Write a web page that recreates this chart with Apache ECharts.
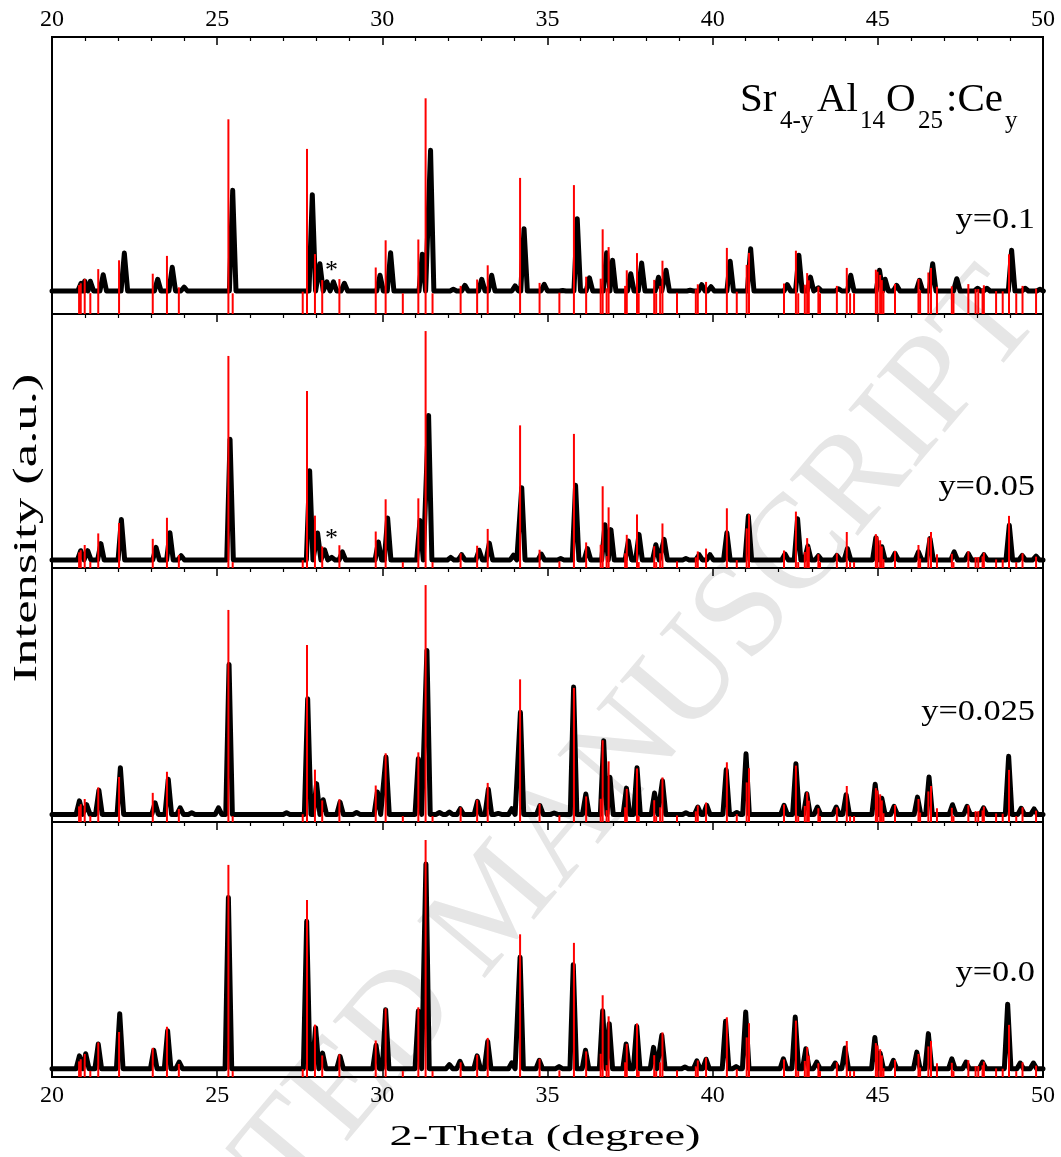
<!DOCTYPE html>
<html>
<head>
<meta charset="utf-8">
<script src="https://cdn.jsdelivr.net/npm/echarts@6/dist/echarts.min.js"></script>
<style>
  html, body { margin: 0; padding: 0; background: #fff; }
  #chart { width: 1061px; height: 1157px; }
</style>
</head>
<body>
<div id="chart"></div>
<script>
// reference pattern (red sticks): [2-theta, relative intensity]
const refSticks = [
  [20.82, 6.6], [20.87, 7.5], [20.99, 9.7], [21.16, 2.6], [21.40, 14.6], [22.03, 19.0],
  [23.05, 12.3], [23.48, 21.2], [23.84, 5.5], [25.34, 89.5], [25.47, 2.5], [27.59, 3.3],
  [27.72, 74.7], [27.96, 22.1], [28.18, 9.1], [28.70, 9.6], [29.80, 15.4], [30.10, 29.0],
  [30.62, 2.5], [31.09, 29.4], [31.31, 100], [31.52, 2.5], [32.37, 6.2], [32.87, 9.4],
  [33.19, 16.5], [34.17, 60.2], [34.76, 7.7], [35.36, 2.8], [35.80, 56.6], [36.17, 10.8],
  [36.61, 9.8], [36.67, 34.5], [36.79, 5.0], [36.85, 25.6], [37.35, 6.2], [37.40, 14.0],
  [37.71, 22.6], [37.76, 2.5], [38.23, 9.2], [38.29, 2.5], [38.41, 6.2], [38.48, 18.8],
  [38.92, 2.8], [39.49, 4.5], [39.55, 7.0], [39.80, 8.2], [40.43, 25.2], [40.73, 3.3],
  [41.03, 16.7], [41.10, 22.7], [42.16, 7.4], [42.52, 23.8], [42.59, 2.5], [42.79, 6.8],
  [42.86, 12.6], [42.91, 9.0], [43.20, 5.8], [43.25, 2.5], [43.76, 6.2], [44.06, 15.2],
  [44.16, 2.5], [44.28, 2.5], [44.94, 14.3], [44.99, 13.3], [45.07, 11.7], [45.12, 9.1],
  [45.17, 3.7], [45.52, 7.2], [46.23, 9.7], [46.28, 4.0], [46.53, 12.9], [46.61, 15.2],
  [46.79, 5.8], [47.24, 6.0], [47.29, 2.5], [47.74, 7.1], [47.96, 4.6], [48.04, 4.6],
  [48.17, 4.9], [48.21, 6.5], [48.58, 3.6], [48.78, 3.5], [48.97, 22.0], [49.19, 2.5],
  [49.38, 6.2], [49.79, 4.8]
];

// measured patterns, peak list [2-theta, intensity]
const peaksY010 = [
  [20.88, 7.5], [20.99, 8.6], [21.16, 8.5], [21.55, 11.8], [22.19, 22.6], [23.20, 9.5],
  [23.64, 15.5], [24.00, 5.6], [25.47, 54.0], [27.88, 51.8], [28.11, 17.3], [28.32, 8.2],
  [28.52, 8.2], [28.85, 7.5], [29.93, 11.5], [30.25, 22.8], [31.21, 22.0], [31.46, 74.0],
  [32.15, 4.5], [32.50, 6.5], [33.01, 9.5], [33.31, 11.5], [34.02, 6.2], [34.29, 34.8],
  [34.90, 7.0], [35.46, 3.9], [35.90, 39.8], [36.27, 10.2], [36.79, 22.8], [36.97, 19.0],
  [37.52, 12.3], [37.85, 17.6], [38.36, 10.5], [38.59, 14.0], [39.32, 4.0], [39.67, 6.8],
  [39.95, 5.8], [40.53, 18.5], [41.15, 24.8], [42.26, 6.8], [42.61, 21.5], [42.96, 10.6],
  [43.20, 5.2], [43.81, 4.8], [44.18, 11.5], [45.05, 14.0], [45.22, 9.5], [45.57, 6.5],
  [46.26, 9.0], [46.66, 17.3], [47.39, 9.8], [48.02, 5.0], [48.30, 5.0], [49.05, 24.0],
  [49.46, 5.0], [49.91, 4.5]
];
const peaksY005 = [
  [20.87, 7.3], [21.08, 7.3], [21.48, 10.3], [22.10, 20.5], [23.15, 8.7], [23.57, 14.9],
  [23.91, 5.2], [25.39, 54.3], [27.80, 41.0], [28.04, 14.8], [28.25, 7.7], [28.47, 4.5],
  [28.79, 6.8], [29.88, 11.0], [30.16, 21.1], [31.14, 20.0], [31.40, 64.4], [32.07, 4.5],
  [32.40, 5.6], [32.93, 7.5], [33.24, 10.5], [33.97, 5.4], [34.22, 33.9], [34.81, 5.9],
  [35.40, 4.0], [35.85, 34.9], [36.21, 8.2], [36.74, 18.3], [36.92, 16.2], [37.45, 11.4],
  [37.77, 14.2], [38.28, 9.8], [38.53, 12.1], [39.19, 4.0], [39.59, 5.6], [39.92, 5.6],
  [40.43, 14.9], [41.08, 21.9], [42.19, 5.9], [42.57, 20.8], [42.88, 9.3], [43.20, 5.2],
  [43.76, 5.3], [44.08, 8.2], [44.94, 12.8], [45.12, 9.0], [45.52, 6.2], [46.23, 6.8],
  [46.58, 12.4], [47.31, 6.8], [47.74, 6.0], [48.21, 5.6], [48.98, 18.0], [49.37, 5.3],
  [49.79, 5.0]
];
const peaksY0025 = [
  [20.83, 8.9], [21.05, 7.3], [21.42, 13.4], [22.07, 22.9], [23.12, 8.1], [23.52, 18.0],
  [23.88, 6.0], [24.23, 3.9], [25.04, 6.0], [25.36, 66.5], [27.10, 3.9], [27.74, 52.0],
  [28.01, 16.2], [28.21, 9.4], [28.72, 8.4], [29.22, 4.0], [29.85, 12.7], [30.11, 27.4],
  [31.09, 26.7], [31.35, 72.4], [31.73, 4.0], [32.03, 4.2], [32.36, 5.6], [32.88, 8.7],
  [33.21, 13.8], [33.51, 3.6], [33.92, 5.6], [34.18, 46.3], [34.77, 6.9], [35.20, 3.8],
  [35.36, 3.9], [35.79, 57.0], [36.16, 11.8], [36.70, 34.3], [36.89, 18.9], [37.39, 14.3],
  [37.71, 22.9], [38.24, 12.2], [38.48, 17.4], [39.19, 3.9], [39.55, 6.3], [39.82, 7.0],
  [40.41, 22.0], [40.73, 4.0], [41.01, 28.8], [42.16, 7.0], [42.52, 24.6], [42.85, 11.9],
  [43.17, 6.3], [43.74, 6.3], [44.04, 11.5], [44.92, 15.9], [45.12, 10.0], [45.49, 6.6],
  [46.20, 10.5], [46.55, 19.0], [47.26, 7.3], [47.70, 6.6], [48.20, 6.0], [48.96, 27.7],
  [49.34, 5.8], [49.73, 5.5]
];
const peaksY000 = [
  [20.83, 8.9], [21.02, 9.8], [21.40, 13.9], [22.05, 26.7], [23.08, 11.3], [23.50, 19.5],
  [23.85, 6.3], [25.34, 75.7], [27.71, 65.7], [27.98, 20.8], [28.19, 10.1], [28.72, 8.7],
  [29.81, 13.4], [30.10, 28.4], [31.09, 27.8], [31.32, 89.9], [32.03, 5.2], [32.35, 6.6],
  [32.87, 8.9], [33.19, 15.0], [33.92, 6.0], [34.17, 50.5], [34.75, 7.0], [35.35, 4.4],
  [35.78, 47.4], [36.15, 11.3], [36.67, 28.0], [36.87, 22.5], [37.38, 13.9], [37.70, 21.4],
  [38.21, 12.5], [38.46, 17.6], [39.16, 4.2], [39.52, 6.8], [39.80, 7.5], [40.39, 23.5],
  [40.71, 4.4], [41.00, 27.4], [42.14, 7.7], [42.50, 25.3], [42.82, 11.9], [43.15, 6.3],
  [43.71, 5.9], [44.01, 12.2], [44.91, 16.7], [45.07, 10.0], [45.47, 7.0], [46.18, 10.5],
  [46.53, 18.3], [47.24, 7.7], [47.67, 6.3], [48.17, 6.3], [48.93, 30.7], [49.31, 5.9],
  [49.71, 5.9]
];

// impurity marks (*)
const starY010 = [28.46, 16.6];
const starY005 = [28.46, 14.8];

const xTicks = [20, 25, 30, 35, 40, 45, 50];
const FONT = '"Liberation Serif", "Times New Roman", serif';
const HALF_W = 0.1; // half base width of a drawn peak, in degrees

const panels = [
  { name: 'y=0.1', peaks: peaksY010, base: 3.65, min: -7.85, max: 130.65, top: 37, height: 277, star: starY010 },
  { name: 'y=0.05', peaks: peaksY005, base: 3.4, min: 0, max: 107.2, top: 314, height: 254, star: starY005 },
  { name: 'y=0.025', peaks: peaksY0025, base: 3.2, min: 0, max: 107.2, top: 568, height: 254, star: null },
  { name: 'y=0.0', peaks: peaksY000, base: 3.5, min: 0, max: 107.6, top: 822, height: 255, star: null }
];

function profile(peaks, base) {
  const pts = [[20, base]];
  peaks.forEach(function (pk) {
    pts.push([pk[0] - HALF_W, base], [pk[0], pk[1]], [pk[0] + HALF_W, base]);
  });
  pts.push([50, base]);
  return pts;
}

function renderStick(params, api) {
  const p = api.coord([api.value(0), api.value(1)]);
  const cs = params.coordSys;
  return {
    type: 'line',
    shape: { x1: p[0], y1: cs.y + cs.height, x2: p[0], y2: p[1] },
    style: { stroke: '#ff0000', lineWidth: 2 }
  };
}

const chart = echarts.init(document.getElementById('chart'));

const grids = [], xAxes = [], yAxes = [], series = [];
panels.forEach(function (pn, i) {
  grids.push({ left: 52, right: 18, top: pn.top, height: pn.height, show: true,
    borderColor: '#000', borderWidth: 2, backgroundColor: 'transparent' });
  xAxes.push({
    gridIndex: i, type: 'value', position: 'top', min: 20, max: 50, interval: 5,
    axisLine: { show: false, onZero: false },
    axisTick: { show: true, inside: true, length: 8, lineStyle: { color: '#000', width: 1.5 } },
    minorTick: { show: true, splitNumber: 5, length: 4, lineStyle: { color: '#000', width: 1.2 } },
    splitLine: { show: false },
    axisLabel: { show: i === 0, color: '#000', fontFamily: FONT, fontSize: 24, margin: 5,
      showMinLabel: true, showMaxLabel: true }
  });
  yAxes.push({ gridIndex: i, type: 'value', min: pn.min, max: pn.max, show: false });
  const line = {
    type: 'line', xAxisIndex: i, yAxisIndex: i, data: profile(pn.peaks, pn.base),
    showSymbol: false, symbol: 'none', z: 3, animation: false,
    lineStyle: { color: '#000', width: 5, join: 'round', cap: 'round' }
  };
  if (pn.star) {
    line.markPoint = {
      symbol: 'circle', symbolSize: 0, animation: false,
      label: { show: true, formatter: '*', color: '#000', fontFamily: FONT, fontSize: 26, offset: [0, 6] },
      data: [{ coord: pn.star }]
    };
  }
  series.push(line);
  series.push({
    type: 'custom', xAxisIndex: i, yAxisIndex: i, data: refSticks, z: 4,
    renderItem: renderStick, encode: { x: 0, y: 1 }, animation: false, silent: true
  });
});

// bottom axis of the last panel
xAxes.push({
  gridIndex: 3, type: 'value', position: 'bottom', min: 20, max: 50, interval: 5,
  axisLine: { show: false, onZero: false },
  axisTick: { show: true, inside: true, length: 8, lineStyle: { color: '#000', width: 1.5 } },
  minorTick: { show: false },
  splitLine: { show: false },
  axisLabel: { color: '#000', fontFamily: FONT, fontSize: 24, margin: 7,
    showMinLabel: true, showMaxLabel: true,
    formatter: function (v) { return xTicks.indexOf(v) >= 0 ? String(v) : ''; } }
});

function txt(text, x, y, size, opts) {
  return Object.assign({
    type: 'text', x: x, y: y, z: 50,
    style: { text: text, font: size + 'px ' + FONT, fill: '#000', align: 'left', verticalAlign: 'middle' }
  }, opts || {});
}

const graphic = [
  // watermark
  { type: 'text', x: 500, y: 905, rotation: 0.87, z: -10, silent: true,
    style: { text: 'ACCEPTED MANUSCRIPT', font: '135px ' + FONT, fill: '#e6e6e6',
      align: 'center', verticalAlign: 'middle' } },
  // title Sr4-yAl14O25:Cey
  txt('Sr', 740, 100, 41), txt('4-y', 780, 121, 25),
  txt('Al', 817, 100, 41), txt('14', 860, 121, 25),
  txt('O', 886, 100, 41), txt('25', 918, 121, 25),
  txt(':Ce', 946, 100, 41), txt('y', 1005, 121, 25),
  // axis titles
  Object.assign(txt('Intensity (a.u.)', 27, 528, 34), { rotation: Math.PI / 2, scaleX: 1.55 }),
  Object.assign(txt('2-Theta (degree)', 545, 1137, 30), { scaleX: 1.55 })
];
graphic[graphic.length - 2].style.align = 'center';
graphic[graphic.length - 1].style.align = 'center';

const labelY = [220, 487, 712, 973];
panels.forEach(function (pn, i) {
  const t = txt(pn.name, 1035, labelY[i], 29.6, { scaleX: 1.16 });
  t.style.align = 'right';
  graphic.push(t);
});

chart.setOption({
  backgroundColor: '#fff',
  animation: false,
  grid: grids,
  xAxis: xAxes,
  yAxis: yAxes,
  series: series,
  graphic: graphic
});
</script>
</body>
</html>
